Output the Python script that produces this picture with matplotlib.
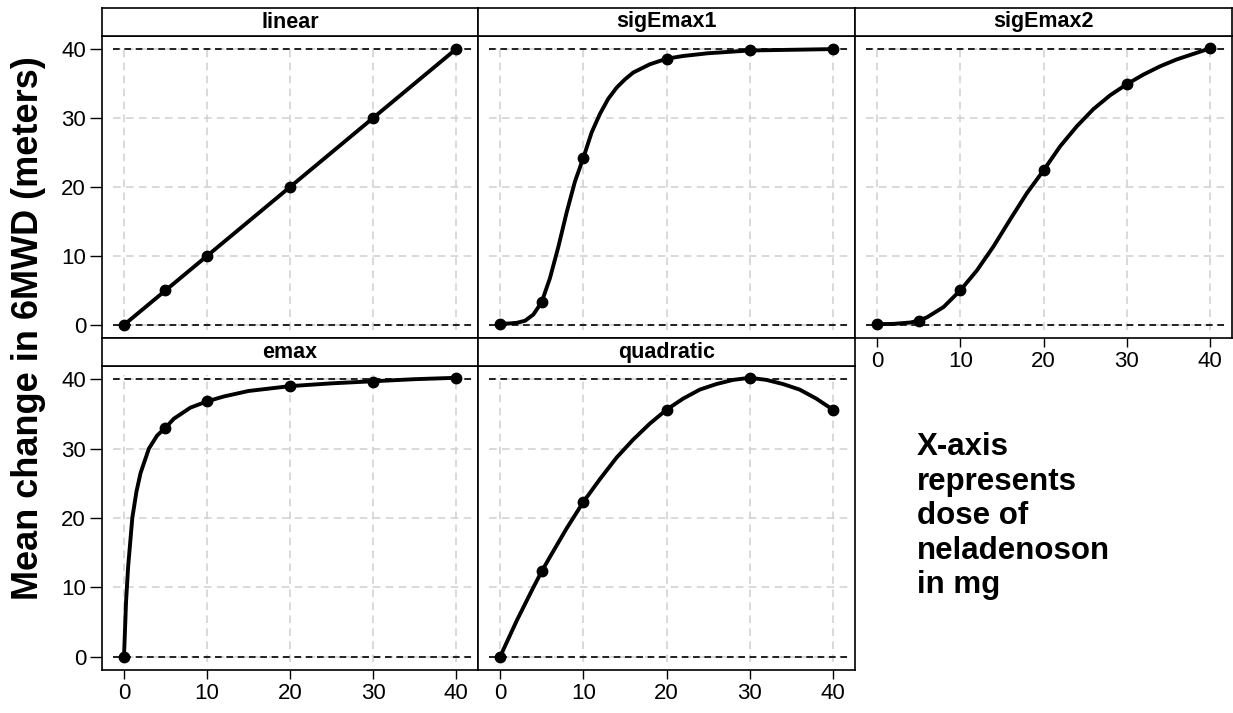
import matplotlib
matplotlib.use("Agg")
import matplotlib.pyplot as plt

plt.rcParams['font.family'] = ['Liberation Sans', 'DejaVu Sans']

W, H = 1233, 713

# dose levels with plotted points
doses = [0, 5, 10, 20, 30, 40]

model_names = ['linear', 'sigEmax1', 'sigEmax2', 'emax', 'quadratic']

# mean change at the dose levels (points)
linear_pts = [0, 5, 10, 20, 30, 40]
sigemax1_pts = [0.2, 3.3, 24.2, 38.6, 39.9, 40.0]
sigemax2_pts = [0.1, 0.6, 5.0, 22.4, 34.9, 40.1]
emax_pts = [0.0, 33.0, 36.8, 39.0, 39.6, 40.2]
quadratic_pts = [0.0, 12.3, 22.3, 35.6, 40.2, 35.6]

# model curves
linear_cx = [0, 5, 10, 20, 30, 40]
linear_cy = [0, 5, 10, 20, 30, 40]

sigemax1_cx = [0, 1, 2, 3, 4, 5, 6, 7, 8, 9, 10, 11, 12, 13, 14, 15, 16, 18, 20, 22, 25, 30, 35, 40]
sigemax1_cy = [0.2, 0.2, 0.3, 0.6, 1.5, 3.3, 6.8, 11.3, 16.3, 20.8, 24.2, 27.9, 30.6, 32.8, 34.4, 35.6, 36.6, 37.8, 38.6, 39.0, 39.4, 39.8, 39.9, 40.0]

sigemax2_cx = [0, 2, 4, 5, 6, 8, 10, 12, 14, 16, 18, 20, 22, 24, 26, 28, 30, 32, 34, 36, 38, 40]
sigemax2_cy = [0.1, 0.15, 0.35, 0.6, 1.1, 2.6, 5.0, 7.9, 11.4, 15.3, 19.1, 22.4, 25.9, 28.8, 31.3, 33.3, 34.9, 36.3, 37.5, 38.5, 39.3, 40.1]

emax_cx = [0, 0.25, 0.5, 1, 1.5, 2, 3, 4, 5, 6, 8, 10, 12, 15, 20, 25, 30, 35, 40]
emax_cy = [0.0, 8.0, 13.0, 20.0, 23.8, 26.5, 30.0, 31.9, 33.0, 34.3, 35.9, 36.8, 37.5, 38.3, 39.0, 39.4, 39.7, 40.0, 40.2]

quadratic_cx = [0, 2, 4, 5, 6, 8, 10, 12, 14, 16, 18, 20, 22, 24, 26, 28, 30, 32, 34, 36, 38, 40]
quadratic_cy = [0.0, 5.2, 10.0, 12.3, 14.4, 18.5, 22.3, 25.6, 28.7, 31.3, 33.6, 35.6, 37.2, 38.5, 39.3, 39.9, 40.2, 39.9, 39.3, 38.5, 37.2, 35.6]

points = [linear_pts, sigemax1_pts, sigemax2_pts, emax_pts, quadratic_pts]
curves = [(linear_cx, linear_cy), (sigemax1_cx, sigemax1_cy), (sigemax2_cx, sigemax2_cy),
          (emax_cx, emax_cy), (quadratic_cx, quadratic_cy)]

ticks = [0, 10, 20, 30, 40]


def box(x0, y0, x1, y1):
    # pixel box (top-left origin) -> figure fraction rect
    return [x0 / W, 1 - y1 / H, (x1 - x0) / W, (y1 - y0) / H]


col_edges = [(102, 478), (478, 855), (855, 1232)]
row_edges = [((8, 36), (36, 338)), ((338, 366), (366, 670))]

fig = plt.figure(figsize=(W / 100, H / 100), dpi=100)

for i, name in enumerate(model_names):
    r, c = divmod(i, 3)
    x0, x1 = col_edges[c]
    (s0, s1), (p0, p1) = row_edges[r]

    ax = fig.add_axes(box(x0, p0, x1, p1))
    ax.set_xlim(-2.65, 42.65)
    ax.set_ylim(-1.9, 41.9)

    # grid
    ax.vlines(ticks, -0.7, 40.6, color='#d0d0d0', lw=1.1, linestyles=(0, (5, 3.5)), zorder=0)
    ax.hlines(ticks, -1.3, 42.0, color='#d0d0d0', lw=1.1, linestyles=(0, (5, 3.5)), zorder=0)
    # reference lines
    ax.hlines([0, 40], -1.3, 42.0, color='black', lw=1.2, linestyles=(0, (4, 2.8)), zorder=1)

    cx, cy = curves[i]
    ax.plot(cx, cy, color='black', lw=2.8, zorder=3, solid_capstyle='round', solid_joinstyle='round')
    ax.plot(doses, points[i], 'o', color='black', ms=7.5, zorder=4)

    ax.set_xticks(ticks)
    ax.set_yticks(ticks)
    ax.tick_params(labelsize=16, width=1, direction='out', pad=3)
    ax.tick_params(axis='y', length=8.5)
    ax.tick_params(axis='x', length=6.5)
    if c != 0:
        ax.tick_params(axis='y', left=False, labelleft=False)
    if r == 0 and c != 2:
        ax.tick_params(axis='x', bottom=False, labelbottom=False)
    for sp in ax.spines.values():
        sp.set_linewidth(1.2)

    # strip
    sx = fig.add_axes(box(x0, s0, x1, s1))
    sx.set_xticks([])
    sx.set_yticks([])
    for sp in sx.spines.values():
        sp.set_linewidth(1.2)
    sx.text(0.5, 0.5, name, ha='center', va='center', fontsize=15.5, fontweight='bold',
            transform=sx.transAxes)

fig.text(0.023, 0.54, 'Mean change in 6MWD (meters)', rotation=90, ha='center', va='center',
         fontsize=26, fontweight='bold')

fig.text(917 / W, 1 - 432 / H, 'X-axis\nrepresents\ndose of\nneladenoson\nin mg', ha='left', va='top',
         fontsize=22.5, fontweight='bold', linespacing=1.2)

fig.savefig('out.png', dpi=100)
